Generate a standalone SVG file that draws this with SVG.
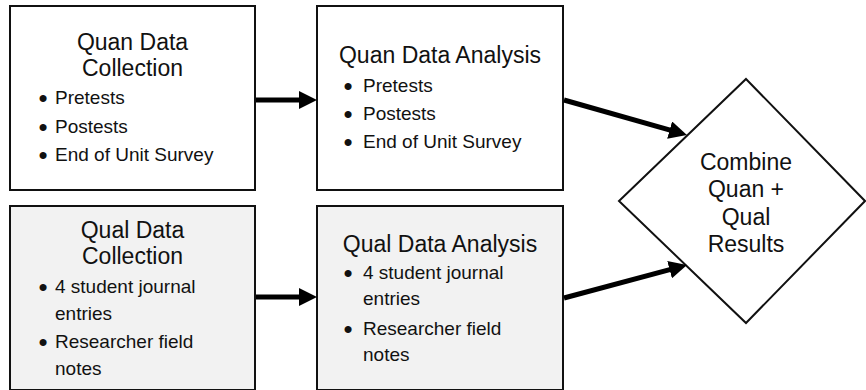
<svg xmlns="http://www.w3.org/2000/svg" width="866" height="390" viewBox="0 0 866 390">
<defs>
<style>
.box{fill:#ffffff;stroke:#111;stroke-width:2}
.gbox{fill:#f2f2f2;stroke:#111;stroke-width:2}
.t{font-family:"Liberation Sans",Arial,sans-serif;font-size:23px;fill:#111}
.c{text-anchor:middle}
.b{font-family:"Liberation Sans",Arial,sans-serif;font-size:19px;fill:#111}
.d{font-family:"Liberation Sans",Arial,sans-serif;font-size:26px;fill:#111}
.conn{stroke:#000;stroke-width:5;fill:none}
</style>
<marker id="ah" markerUnits="userSpaceOnUse" markerWidth="18" markerHeight="18" refX="6" refY="9" orient="auto">
<path d="M0,0 L18,9 L0,18 Z" fill="#000"/>
</marker>
</defs>
<rect width="866" height="390" fill="#fff"/>
<g id="quan-collection">
<rect class="box" x="10" y="6" width="245" height="184"/>
<text class="t c" x="132.5" y="50">Quan Data</text>
<text class="t c" x="132.5" y="76">Collection</text>
<text class="d" x="38.5" y="106.5">•</text><text class="b" x="55" y="104">Pretests</text>
<text class="d" x="38.5" y="135.5">•</text><text class="b" x="55" y="133">Postests</text>
<text class="d" x="38.5" y="163.5">•</text><text class="b" x="55" y="161">End of Unit Survey</text>
</g>
<g id="quan-analysis">
<rect class="box" x="317" y="6" width="246" height="184"/>
<text class="t c" x="440" y="63">Quan Data Analysis</text>
<text class="d" x="343.5" y="94.5">•</text><text class="b" x="363" y="92">Pretests</text>
<text class="d" x="343.5" y="122.5">•</text><text class="b" x="363" y="120">Postests</text>
<text class="d" x="343.5" y="150.5">•</text><text class="b" x="363" y="148">End of Unit Survey</text>
</g>
<g id="qual-collection">
<rect class="gbox" x="10" y="206" width="245" height="184"/>
<text class="t c" x="132.5" y="238">Qual Data</text>
<text class="t c" x="132.5" y="264">Collection</text>
<text class="d" x="38.5" y="295.5">•</text><text class="b" x="55" y="293">4 student journal</text>
<text class="b" x="55" y="320">entries</text>
<text class="d" x="38.5" y="350.5">•</text><text class="b" x="55" y="348">Researcher field</text>
<text class="b" x="55" y="375">notes</text>
</g>
<g id="qual-analysis">
<rect class="gbox" x="317" y="206" width="246" height="184"/>
<text class="t c" x="440" y="252">Qual Data Analysis</text>
<text class="d" x="343.5" y="281.5">•</text><text class="b" x="363" y="279">4 student journal</text>
<text class="b" x="363" y="305">entries</text>
<text class="d" x="343.5" y="337.5">•</text><text class="b" x="363" y="335">Researcher field</text>
<text class="b" x="363" y="361">notes</text>
</g>
<g id="combine">
<polygon points="746,79 865,201 746,323 619,201" fill="#fff" stroke="#111" stroke-width="2"/>
<text class="t c" x="746" y="170">Combine</text>
<text class="t c" x="746" y="197">Quan +</text>
<text class="t c" x="746" y="225">Qual</text>
<text class="t c" x="746" y="252">Results</text>
</g>
<g id="connectors">
<line class="conn" x1="256" y1="100" x2="305" y2="100" marker-end="url(#ah)"/>
<line class="conn" x1="256" y1="297" x2="305" y2="297" marker-end="url(#ah)"/>
<line class="conn" x1="564" y1="100" x2="675.4" y2="131.7" marker-end="url(#ah)"/>
<line class="conn" x1="564" y1="298" x2="675.4" y2="268.1" marker-end="url(#ah)"/>
</g>
</svg>
